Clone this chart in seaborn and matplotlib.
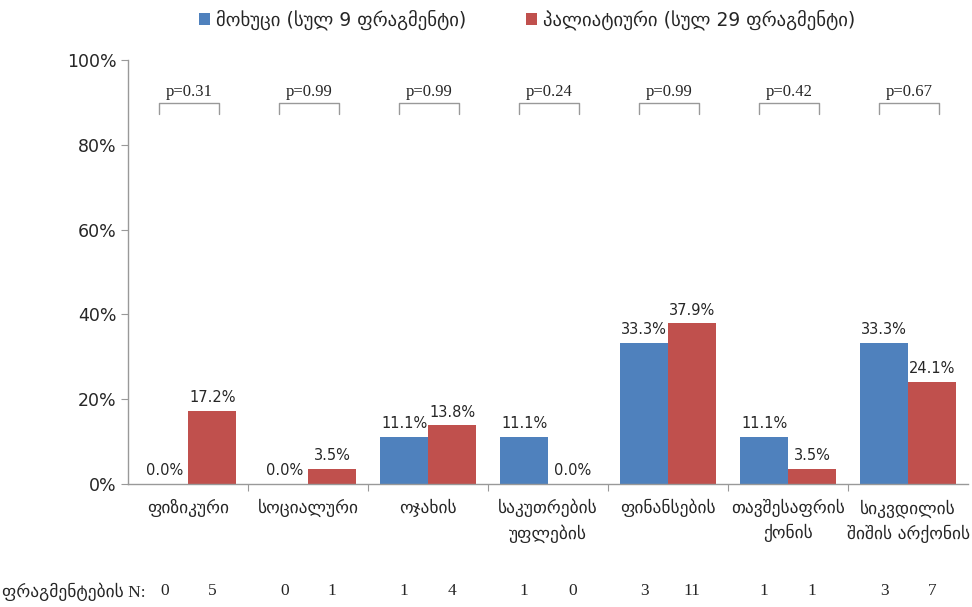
import matplotlib
matplotlib.use("Agg")
import matplotlib.pyplot as plt
import pandas as pd
import seaborn as sns

# data
categories = ["ფიზიკური", "სოციალური", "ოჯახის", "საკუთრების\nუფლების", "ფინანსების",
              "თავშესაფრის\nქონის", "სიკვდილის\nშიშის არქონის"]
series_names = ["მოხუცი (სულ 9 ფრაგმენტი)", "პალიატიური (სულ 29 ფრაგმენტი)"]
elderly_pct = [0.0, 0.0, 11.1, 11.1, 33.3, 11.1, 33.3]
palliative_pct = [17.2, 3.5, 13.8, 0.0, 37.9, 3.5, 24.1]
elderly_n = [0, 0, 1, 1, 3, 1, 3]
palliative_n = [5, 1, 4, 0, 11, 1, 7]
p_values = ["p=0.31", "p=0.99", "p=0.99", "p=0.24", "p=0.99", "p=0.42", "p=0.67"]
yticks = [0, 20, 40, 60, 80, 100]

colors = ["#4F81BD", "#C0504D"]

df = pd.DataFrame({
    "category": categories * 2,
    "group": [series_names[0]] * len(categories) + [series_names[1]] * len(categories),
    "value": elderly_pct + palliative_pct,
})

sns.set_style("white")
plt.rcParams["font.family"] = ["DejaVu Sans"]

fig = plt.figure(figsize=(9.72, 6.07), dpi=100)
ax = fig.add_axes([0.132, 0.203, 0.864, 0.698])

sns.barplot(data=df, x="category", y="value", hue="group", palette=colors,
            order=categories, hue_order=series_names, width=0.8, ax=ax,
            saturation=1, edgecolor="none", legend=True)

ax.set_ylim(0, 100)
ax.set_xlim(-0.5, len(categories) - 0.5)
ax.set_yticks(yticks)
ax.set_yticklabels([f"{t}%" for t in yticks], fontsize=12.5)
ax.set_xlabel("")
ax.set_ylabel("")

# category labels as text, ticks placed between groups
ax.set_xticks([i + 0.5 for i in range(len(categories) - 1)])
ax.set_xticklabels([])
ax.tick_params(axis="x", direction="out", length=5, color="#999999", bottom=True)
ax.tick_params(axis="y", direction="out", length=5, color="#999999", left=True)
for i, c in enumerate(categories):
    ax.annotate(c, xy=(i, 0), xycoords=("data", "axes fraction"), xytext=(0, -11),
                textcoords="offset points", ha="center", va="top", fontsize=12.5,
                linespacing=1.5)

for s in ["top", "right"]:
    ax.spines[s].set_visible(False)
for s in ["left", "bottom"]:
    ax.spines[s].set_color("#999999")
    ax.spines[s].set_linewidth(1)

# value labels and fragment counts
bars = [p for p in ax.patches if p.get_width() > 0]
n_cat = len(categories)
all_vals = elderly_pct + palliative_pct
all_n = elderly_n + palliative_n
for p, v, n in zip(bars[:2 * n_cat], all_vals, all_n):
    cx = p.get_x() + p.get_width() / 2
    ax.annotate(f"{v:.1f}%", xy=(cx, v), xytext=(0, 4), textcoords="offset points",
                ha="center", va="bottom", fontsize=10.5)
    ax.annotate(str(n), xy=(cx, 0), xycoords=("data", "axes fraction"), xytext=(0, -77.5),
                textcoords="offset points", ha="center", va="center", fontsize=12.5,
                family=["Liberation Serif", "DejaVu Sans"])

fig.text(0.002, 0.0247, "ფრაგმენტების N:", ha="left", va="center", fontsize=12.5,
         family=["Liberation Serif", "DejaVu Sans"])

# p-value brackets
for i, pv in enumerate(p_values):
    x0, x1 = i - 0.24, i + 0.26
    ax.plot([x0, x0, x1, x1], [87.3, 89.8, 89.8, 87.3], color="#999999", lw=1,
            clip_on=False)
    ax.text((x0 + x1) / 2, 90.6, pv, ha="center", va="bottom", fontsize=12,
            family=["Liberation Serif"])

leg = ax.legend(loc="upper center", bbox_to_anchor=(0.475, 1.16), ncol=2, frameon=False,
                fontsize=13.5, handlelength=0.6, handleheight=0.6, handletextpad=0.3,
                columnspacing=3.2)

fig.savefig("out.png", dpi=100, facecolor="white")
